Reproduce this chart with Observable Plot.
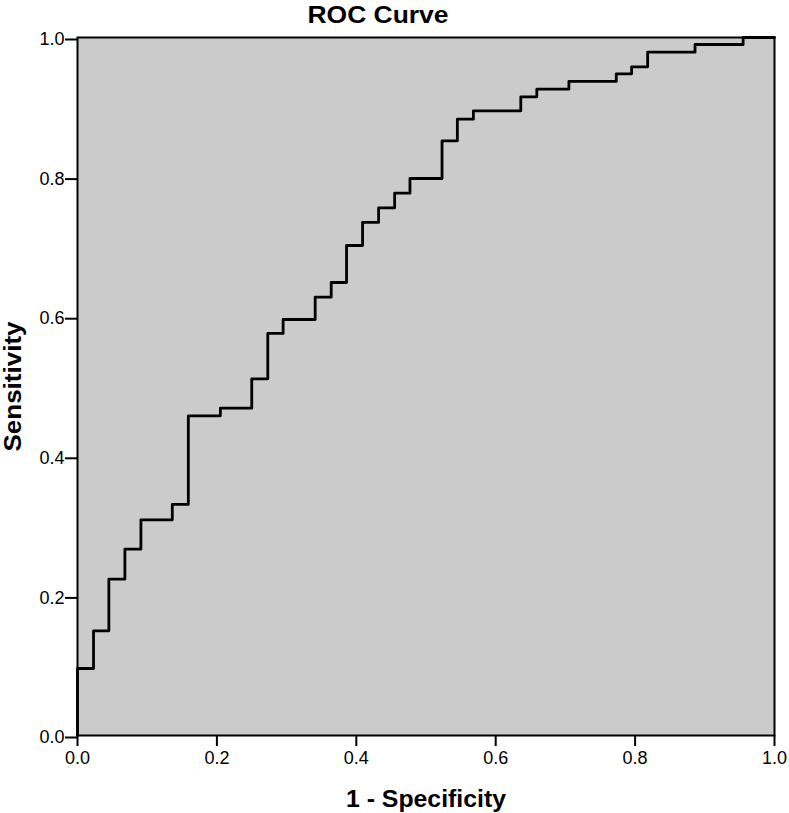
<!DOCTYPE html>
<html>
<head>
<meta charset="utf-8">
<script src="https://cdn.jsdelivr.net/npm/d3@7"></script>
<script src="https://cdn.jsdelivr.net/npm/@observablehq/plot@0.6"></script>
<style>
  html, body { margin: 0; padding: 0; background: #fff; }
  #chart svg { display: block; }
  #chart g[aria-label$="tick label"] { font-size: 18px !important; }
</style>
</head>
<body>
<div id="chart"></div>
<script>
// 1 - Specificity at each corner of the ROC step curve
const fpr = [0, 0, 0.023, 0.045, 0.068, 0.091, 0.136, 0.159, 0.205, 0.250, 0.273, 0.295,
  0.341, 0.364, 0.386, 0.409, 0.432, 0.455, 0.477, 0.523, 0.545, 0.568, 0.636, 0.659,
  0.705, 0.773, 0.795, 0.818, 0.886, 0.955, 1.0];
// Sensitivity reached at each corner
const tpr = [0, 0.096, 0.150, 0.224, 0.267, 0.309, 0.331, 0.458, 0.469, 0.511, 0.576, 0.596,
  0.628, 0.649, 0.702, 0.735, 0.756, 0.777, 0.798, 0.852, 0.883, 0.895, 0.915, 0.926,
  0.937, 0.948, 0.958, 0.979, 0.990, 1.0, 1.0];
const xTicks = [0, 0.2, 0.4, 0.6, 0.8, 1.0];
const yTicks = [0, 0.2, 0.4, 0.6, 0.8, 1.0];
const title = "ROC Curve";
const xLabel = "1 - Specificity";
const yLabel = "Sensitivity";

const points = fpr.map((x, i) => ({x, y: tpr[i]}));
const fmt = d3.format(".1f");

const chart = Plot.plot({
  width: 789,
  height: 813,
  marginTop: 37,
  marginLeft: 77,
  marginRight: 15,
  marginBottom: 78,
  style: {fontFamily: "'Liberation Sans', Arial, sans-serif", fontSize: "18px", color: "#000", background: "#fff"},
  x: {domain: [0, 1]},
  y: {domain: [0, 1]},
  marks: [
    Plot.frame({fill: "#cbcbcb", stroke: null}),
    Plot.line(points, {x: "x", y: "y", curve: "step-after", stroke: "#000", strokeWidth: 2.8}),
    Plot.frame({stroke: "#000", strokeWidth: 2}),
    Plot.axisX({ticks: xTicks, tickFormat: fmt, tickSize: 11, tickPadding: 5, strokeWidth: 2, label: null, fill: "#000", fontSize: 18}),
    Plot.axisY({ticks: yTicks, tickFormat: fmt, tickSize: 12, tickPadding: 1, dy: 2, strokeWidth: 2, label: null, fill: "#000", fontSize: 18}),
    Plot.text([title], {frameAnchor: "top", dx: -48, dy: -31, fontSize: 23, fontWeight: "bold", fill: "#000", className: "ttl"}),
    Plot.text([xLabel], {frameAnchor: "bottom", dy: 71, fontSize: 23, fontWeight: "bold", fill: "#000", className: "xlab"}),
    Plot.text([yLabel], {frameAnchor: "left", textAnchor: "middle", dx: -64, rotate: -90, fontSize: 24, fontWeight: "bold", fill: "#000", className: "ylab"})
  ]
});
// stretch the bold labels horizontally like the reference rendering
const stretch = {ttl: 141, xlab: 160, ylab: 130};
for (const [cls, len] of Object.entries(stretch)) {
  chart.querySelectorAll(`.${cls} text`).forEach(t => {
    t.setAttribute("textLength", len);
    t.setAttribute("lengthAdjust", "spacingAndGlyphs");
  });
}
document.getElementById("chart").appendChild(chart);
</script>
</body>
</html>
